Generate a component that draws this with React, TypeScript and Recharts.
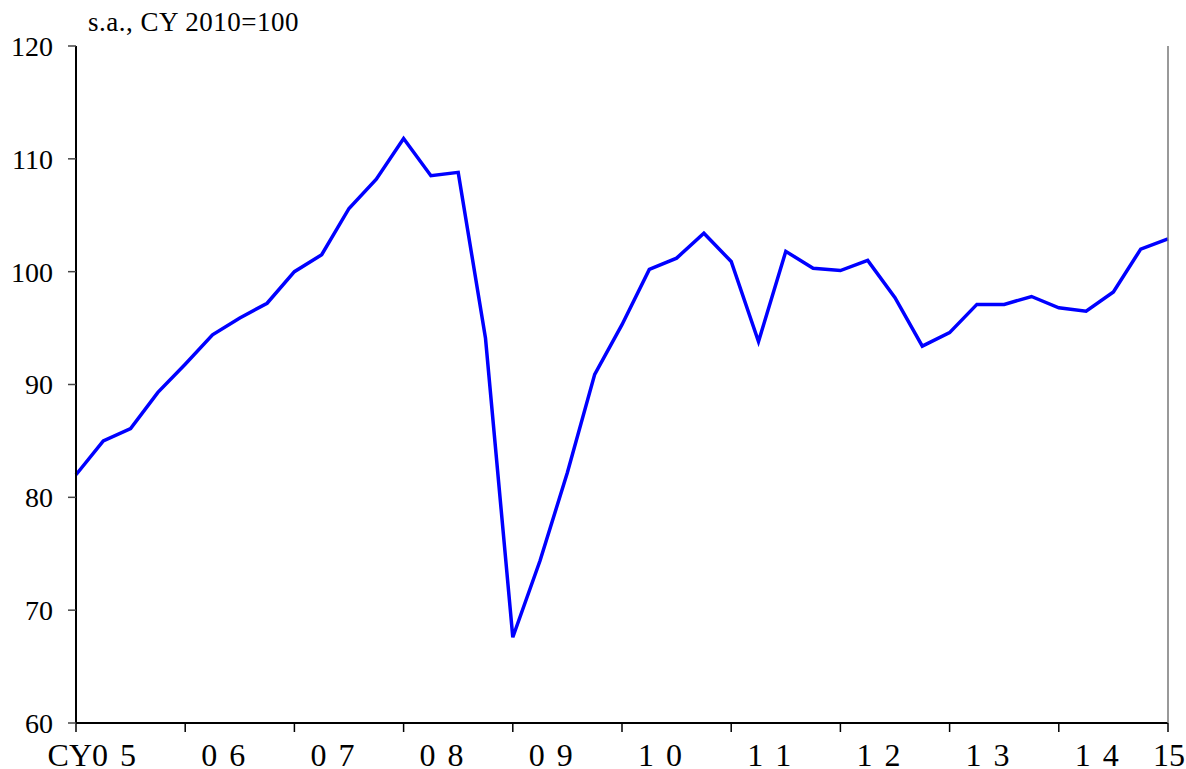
import { LineChart, Line, XAxis, YAxis } from "recharts"

// quarterly, CY05 Q1 .. CY15 Q1
const quarters = [
  "05Q1", "05Q2", "05Q3", "05Q4",
  "06Q1", "06Q2", "06Q3", "06Q4",
  "07Q1", "07Q2", "07Q3", "07Q4",
  "08Q1", "08Q2", "08Q3", "08Q4",
  "09Q1", "09Q2", "09Q3", "09Q4",
  "10Q1", "10Q2", "10Q3", "10Q4",
  "11Q1", "11Q2", "11Q3", "11Q4",
  "12Q1", "12Q2", "12Q3", "12Q4",
  "13Q1", "13Q2", "13Q3", "13Q4",
  "14Q1", "14Q2", "14Q3", "14Q4",
  "15Q1",
]

const index = [
  82.0, 85.0, 86.1, 89.3,
  91.8, 94.4, 95.9, 97.2,
  100.0, 101.5, 105.6, 108.2,
  111.8, 108.5, 108.8, 94.1,
  67.6, 74.4, 82.2, 90.9,
  95.3, 100.2, 101.2, 103.4,
  100.9, 93.8, 101.8, 100.3,
  100.1, 101.0, 97.7, 93.4,
  94.6, 97.1, 97.1, 97.8,
  96.8, 96.5, 98.2, 102.0,
  102.9,
]

const yearTicks = ["05Q1", "06Q1", "07Q1", "08Q1", "09Q1", "10Q1", "11Q1", "12Q1", "13Q1", "14Q1", "15Q1"]
const yearLabels = ["CY0 5", "0 6", "0 7", "0 8", "0 9", "1 0", "1 1", "1 2", "1 3", "1 4", "15"]
const yTicks = [60, 70, 80, 90, 100, 110, 120]

const data = quarters.map((q, i) => ({ q, value: index[i] }))

const FONT = "'Liberation Serif', 'Times New Roman', serif"

function YearTick(props: any) {
  const { x, payload } = props
  const label = yearLabels[yearTicks.indexOf(payload.value)] ?? ""
  const last = label === "15"
  // "CY" prefix is set tight, the spaced digits a little looser
  const prefix = label.startsWith("CY") ? "CY" : ""
  const digits = label.slice(prefix.length)
  return (
    <text
      x={last ? x + 1 : x + 62}
      y={766}
      textAnchor={last ? "middle" : "end"}
      fontSize={32}
      fontFamily={FONT}
      fill="#000"
    >
      {prefix && <tspan letterSpacing={0}>{prefix}</tspan>}
      <tspan letterSpacing={last ? 0 : 2}>{digits}</tspan>
    </text>
  )
}

export default function App() {
  return (
    <div style={{ position: "absolute", left: 0, top: 0, width: 1186, height: 769, background: "#fff" }}>
      <div
        style={{
          position: "absolute",
          left: 88,
          top: 7,
          fontFamily: FONT,
          fontSize: 27,
          letterSpacing: 0.5,
          lineHeight: "30px",
          color: "#000",
          whiteSpace: "nowrap",
        }}
      >
        s.a., CY 2010=100
      </div>
      <LineChart
        width={1186}
        height={769}
        data={data}
        margin={{ top: 46, right: 0, bottom: 0, left: 0 }}
        style={{ fontFamily: FONT }}
      >
        <XAxis
          dataKey="q"
          ticks={yearTicks}
          interval={0}
          height={46}
          tick={<YearTick />}
          tickSize={9}
          tickLine={{ stroke: "#000", strokeWidth: 1.5 }}
          axisLine={{ stroke: "#000", strokeWidth: 2 }}
        />
        <XAxis
          xAxisId="top"
          dataKey="q"
          orientation="top"
          height={0}
          tick={false}
          tickLine={false}
          axisLine={{ stroke: "#666", strokeWidth: 1.5 }}
        />
        <YAxis
          domain={[60, 120]}
          ticks={yTicks}
          interval={0}
          width={76}
          tickSize={8}
          tickMargin={15}
          tick={{ fontSize: 28, fill: "#000", fontFamily: FONT }}
          tickLine={{ stroke: "#444", strokeWidth: 1.5 }}
          axisLine={{ stroke: "#000", strokeWidth: 2 }}
        />
        <YAxis
          yAxisId="right"
          orientation="right"
          domain={[60, 120]}
          width={18}
          tick={false}
          tickLine={false}
          axisLine={{ stroke: "#777", strokeWidth: 1.5 }}
        />
        <Line
          type="linear"
          dataKey="value"
          stroke="#0000ff"
          strokeWidth={3.5}
          dot={false}
          isAnimationActive={false}
        />
      </LineChart>
    </div>
  )
}
